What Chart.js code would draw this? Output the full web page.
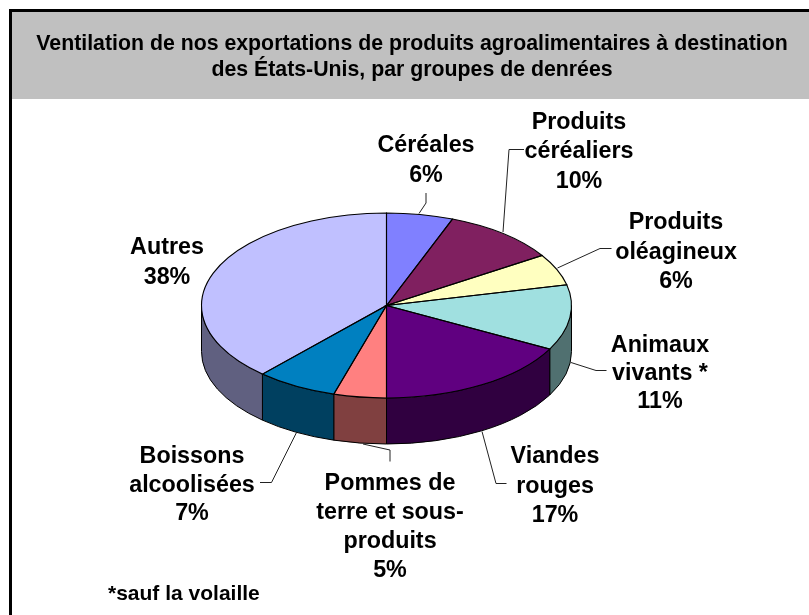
<!DOCTYPE html>
<html lang="fr">
<head>
<meta charset="utf-8">
<title>Ventilation des exportations</title>
<style>html,body{margin:0;padding:0;background:#fff;overflow:hidden}canvas{display:block}</style>
<script src="https://cdn.jsdelivr.net/npm/chart.js@4/dist/chart.umd.min.js"></script>
</head>
<body>
<canvas id="c" width="809" height="615"></canvas>
<script>
// ---- data ----
const titleLines = ["Ventilation de nos exportations de produits agroalimentaires à destination", "des États-Unis, par groupes de denrées"];
const categories = [["Céréales"], ["Produits", "céréaliers"], ["Produits", "oléagineux"], ["Animaux", "vivants *"], ["Viandes", "rouges"], ["Pommes de", "terre et sous-", "produits"], ["Boissons", "alcoolisées"], ["Autres"]];
const shares = [5.8, 10.1, 5.5, 11.4, 17.2, 4.6, 7.1, 38.3];
const footnote = "*sauf la volaille";

// ---- style ----
const topColours = ["#8080FF", "#802060", "#FFFFC0", "#A0E0E0", "#600080", "#FF8080", "#0080C0", "#C0C0FF"];
const sideColours = ["#404080", "#401030", "#808060", "#507070", "#300040", "#804040", "#004060", "#606080"];

// ---- layout ----
const pie = { cx: 386.5, cy: 305.5, rx: 185, ry: 92.5, depth: 46 };
const labelX = [426, 579, 676, 660, 555, 390, 192, 167];
const labelY = [152, 128.5, 229, 352, 463, 490, 463, 254];
const labelLine = [29.5, 29.5, 29.5, 28, 29.5, 29, 28.5, 29.5];
const leaders = [
  [[426,193],[426,203],[419,213.5]],
  [[524,149.5],[509,149.5],[503,232]],
  [[611.5,248.5],[600,248.5],[557.5,268]],
  [[606.5,370.5],[596,370.5],[571,362.5]],
  [[506.5,483.5],[496,483.5],[482,431.5]],
  [[390,461.5],[390,450],[363,444]],
  [[260,482.5],[271.5,482.5],[296.5,432.5]]
];
const FAMILY = '"Liberation Sans", Arial, sans-serif';

function arcsOf(chart){ return chart.getDatasetMeta(0).data; }

const frame = {
  id: 'frame',
  beforeDraw(chart){
    const c = chart.ctx;
    c.save();
    c.fillStyle = '#fff'; c.fillRect(0,0,809,615);
    c.fillStyle = '#C0C0C0'; c.fillRect(12,12,797,87);
    c.fillStyle = '#000';
    c.fillRect(9,9,800,3);
    c.fillRect(9,9,3,606);
    c.restore();
  }
};

const tilted = {
  id: 'tilted',
  beforeDatasetDraw(chart){
    const c = chart.ctx, arcs = arcsOf(chart);
    // side wall: the lower half of each slice, pushed down by the pie depth
    arcs.forEach((el,i)=>{
      for (const k of [-1,0,1]) {
        const a = Math.max(el.startAngle + k*2*Math.PI, 0);
        const b = Math.min(el.endAngle + k*2*Math.PI, Math.PI);
        if (b <= a) continue;
        c.beginPath();
        c.ellipse(pie.cx,pie.cy,pie.rx,pie.ry,0,a,b);
        c.ellipse(pie.cx,pie.cy+pie.depth,pie.rx,pie.ry,0,b,a,true);
        c.closePath();
        c.fillStyle = sideColours[i];
        c.fill();
        c.lineWidth = 1; c.strokeStyle = '#000'; c.stroke();
      }
    });
    const el = arcs[0], r = el.outerRadius;
    c.save();
    c.translate(pie.cx,pie.cy);
    c.scale(pie.rx/r,pie.ry/r);
    c.translate(-el.x,-el.y);
  },
  afterDatasetDraw(chart){
    const c = chart.ctx;
    c.restore();
    arcsOf(chart).forEach(el=>{
      c.beginPath();
      c.moveTo(pie.cx,pie.cy);
      c.ellipse(pie.cx,pie.cy,pie.rx,pie.ry,0,el.startAngle,el.endAngle);
      c.closePath();
      c.lineWidth = 1.1; c.strokeStyle = '#000'; c.stroke();
    });
  },
  afterDraw(chart){
    const c = chart.ctx;
    c.save();
    c.lineWidth = 1; c.strokeStyle = '#222';
    leaders.forEach(pts=>{
      c.beginPath();
      pts.forEach((p,i)=> i ? c.lineTo(p[0],p[1]) : c.moveTo(p[0],p[1]));
      c.stroke();
    });
    c.fillStyle = '#000';
    c.textAlign = 'center'; c.textBaseline = 'alphabetic';
    c.font = 'bold 23.3px ' + FAMILY;
    categories.forEach((lines,i)=>{
      const all = lines.concat(Math.round(shares[i]) + '%');
      all.forEach((t,j)=> c.fillText(t, labelX[i], labelY[i] + j*labelLine[i]));
    });
    c.textAlign = 'left';
    c.font = 'bold 21px ' + FAMILY;
    c.fillText(footnote, 108, 599.5);
    c.restore();
  }
};

new Chart(document.getElementById('c'), {
  type: 'pie',
  data: {
    labels: categories.map(l=>l.join(' ')),
    datasets: [{ data: shares, backgroundColor: topColours, borderWidth: 0, clip: false }]
  },
  options: {
    responsive: false,
    animation: false,
    devicePixelRatio: 1,
    layout: { padding: { left: 15, right: 0, top: 12, bottom: 10 } },
    plugins: {
      legend: { display: false },
      tooltip: { enabled: false },
      title: {
        display: true,
        text: titleLines,
        color: '#000',
        font: { family: FAMILY, size: 21.3, weight: 'bold', lineHeight: 1.22 },
        padding: { top: 19.5, bottom: 10 }
      }
    }
  },
  plugins: [frame, tilted]
});
</script>
</body>
</html>
